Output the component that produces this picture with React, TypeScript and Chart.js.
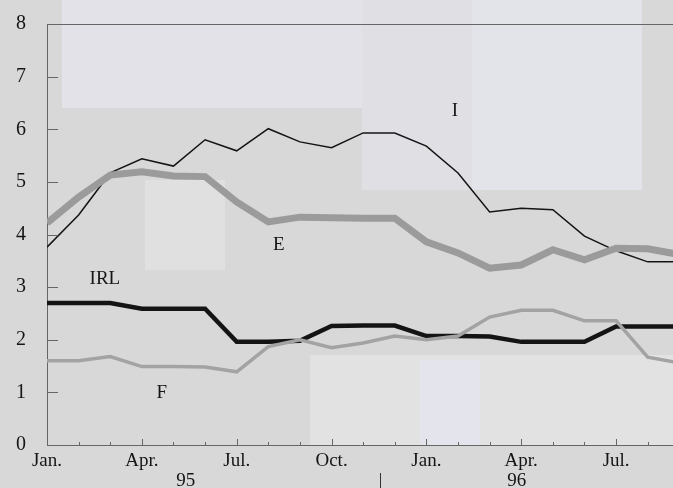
import { useEffect, useRef } from 'react';
import { Chart, registerables } from 'chart.js';

Chart.register(...registerables);

// Months since Jan. 1995 (0 = Jan 95 ... 20 = Sep 96)
const months = [0, 1, 2, 3, 4, 5, 6, 7, 8, 9, 10, 11, 12, 13, 14, 15, 16, 17, 18, 19, 20];
const monthTickLabels = ['Jan.', '', '', 'Apr.', '', '', 'Jul.', '', '', 'Oct.', '', '', 'Jan.', '', '', 'Apr.', '', '', 'Jul.', ''];
const yearLabels = ['95', '96'];
const yearLabelAt = [4.39, 14.86];
const yearSeparatorAt = 10.53;

const seriesI = [3.76, 4.37, 5.17, 5.44, 5.3, 5.8, 5.59, 6.01, 5.76, 5.65, 5.93, 5.93, 5.68, 5.17, 4.43, 4.5, 4.47, 3.97, 3.69, 3.48, 3.48];
const seriesE = [4.22, 4.71, 5.13, 5.19, 5.11, 5.1, 4.62, 4.24, 4.33, 4.32, 4.31, 4.31, 3.86, 3.65, 3.36, 3.42, 3.71, 3.52, 3.74, 3.73, 3.62];
const seriesIRL = [2.7, 2.7, 2.7, 2.59, 2.59, 2.59, 1.96, 1.96, 1.98, 2.26, 2.27, 2.27, 2.07, 2.07, 2.06, 1.96, 1.96, 1.96, 2.25, 2.25, 2.25];
const seriesF = [1.6, 1.6, 1.68, 1.49, 1.49, 1.48, 1.39, 1.87, 2.0, 1.85, 1.94, 2.07, 2.0, 2.07, 2.43, 2.56, 2.56, 2.36, 2.36, 1.67, 1.56];

const seriesNames = ['I', 'E', 'IRL', 'F'];
const seriesLabelX = [12.9, 7.33, 1.83, 3.63];
const seriesLabelY = [6.35, 3.8, 3.16, 0.99];

const SERIF = '"Liberation Serif", "DejaVu Serif", serif';
const INK = '#151515';

const toPoints = (vals: number[]) => vals.map((v, i) => ({ x: months[i], y: v }));

const backgroundPlugin = {
  id: 'scanBackground',
  beforeDraw(chart: any) {
    const { ctx, width, height } = chart;
    ctx.save();
    ctx.fillStyle = '#d8d8d8';
    ctx.fillRect(0, 0, width, height);
    const patches: [number, number, number, number, string][] = [
      [62, 0, 300, 108, '#e2e2e8'],
      [362, 0, 110, 190, '#e0e0e4'],
      [472, 0, 170, 190, '#e3e3ea'],
      [145, 180, 80, 90, '#e0e0e0'],
      [310, 355, 363, 90, '#e2e2e2'],
      [420, 360, 60, 85, '#e4e4ec'],
    ];
    patches.forEach(([x, y, w, h, c]) => {
      ctx.fillStyle = c;
      ctx.fillRect(x, y, w, h);
    });
    ctx.restore();
  },
};

const decorPlugin = {
  id: 'decor',
  afterDraw(chart: any) {
    const { ctx, chartArea } = chart;
    const xs = chart.scales.x;
    const ys = chart.scales.y;
    ctx.save();
    // top border
    ctx.strokeStyle = '#666';
    ctx.lineWidth = 1;
    ctx.beginPath();
    ctx.moveTo(chartArea.left, chartArea.top + 0.5);
    ctx.lineTo(chartArea.right, chartArea.top + 0.5);
    ctx.stroke();
    // inward x ticks
    months.slice(0, 20).forEach((m) => {
      const px = Math.round(xs.getPixelForValue(m)) + 0.5;
      const len = m % 3 === 0 ? 6 : 3;
      ctx.beginPath();
      ctx.moveTo(px, chartArea.bottom);
      ctx.lineTo(px, chartArea.bottom - len);
      ctx.stroke();
    });
    // inward y ticks
    for (let v = 1; v < 8; v++) {
      const py = Math.round(ys.getPixelForValue(v)) + 0.5;
      ctx.beginPath();
      ctx.moveTo(chartArea.left, py);
      ctx.lineTo(chartArea.left + 11, py);
      ctx.stroke();
    }
    // series labels
    ctx.fillStyle = INK;
    ctx.font = `19px ${SERIF}`;
    ctx.textAlign = 'center';
    ctx.textBaseline = 'middle';
    seriesNames.forEach((n, i) => {
      ctx.fillText(n, xs.getPixelForValue(seriesLabelX[i]), ys.getPixelForValue(seriesLabelY[i]));
    });
    // year labels
    ctx.font = `19px ${SERIF}`;
    ctx.textBaseline = 'middle';
    yearLabels.forEach((t, i) => {
      ctx.fillText(t, xs.getPixelForValue(yearLabelAt[i]), 481);
    });
    const sx = Math.round(xs.getPixelForValue(yearSeparatorAt)) + 0.5;
    ctx.strokeStyle = '#333';
    ctx.beginPath();
    ctx.moveTo(sx, 473);
    ctx.lineTo(sx, 488);
    ctx.stroke();
    ctx.restore();
  },
};

export default function App() {
  const ref = useRef<HTMLCanvasElement | null>(null);

  useEffect(() => {
    document.body.style.margin = '0';
    const canvas = ref.current;
    if (!canvas) return;
    const chart = new Chart(canvas, {
      type: 'line',
      data: {
        datasets: [
          { label: 'E', data: toPoints(seriesE), borderColor: '#9b9b9b', borderWidth: 7, pointRadius: 0, tension: 0 },
          { label: 'F', data: toPoints(seriesF), borderColor: '#a3a3a3', borderWidth: 3.5, pointRadius: 0, tension: 0 },
          { label: 'IRL', data: toPoints(seriesIRL), borderColor: '#141414', borderWidth: 4.5, pointRadius: 0, tension: 0 },
          { label: 'I', data: toPoints(seriesI), borderColor: '#141414', borderWidth: 1.5, pointRadius: 0, tension: 0 },
        ],
      },
      options: {
        animation: false,
        responsive: false,
        maintainAspectRatio: false,
        layout: { padding: { top: 24, right: 0, left: 0, bottom: 0 } },
        plugins: { legend: { display: false }, tooltip: { enabled: false } },
        scales: {
          x: {
            type: 'linear',
            min: 0,
            max: 19.8,
            afterBuildTicks: (scale: any) => {
              scale.ticks = months.slice(0, 20).map((v) => ({ value: v }));
            },
            afterFit: (scale: any) => {
              scale.height = 43;
              scale.paddingLeft = 0;
              scale.paddingRight = 0;
            },
            grid: { display: false, drawTicks: false },
            border: { display: true, color: '#666', width: 1 },
            ticks: {
              autoSkip: false,
              maxRotation: 0,
              padding: 5,
              color: INK,
              font: { family: SERIF, size: 19 },
              callback: (v: any) => monthTickLabels[Math.round(Number(v))] ?? '',
            },
          },
          y: {
            min: 0,
            max: 8,
            afterFit: (scale: any) => {
              scale.width = 47;
              scale.paddingTop = 0;
              scale.paddingBottom = 0;
            },
            grid: { display: false, drawTicks: false },
            border: { display: true, color: '#666', width: 1 },
            ticks: {
              stepSize: 1,
              padding: 21,
              color: INK,
              font: { family: SERIF, size: 20 },
            },
          },
        },
      },
      plugins: [backgroundPlugin, decorPlugin],
    });
    return () => chart.destroy();
  }, []);

  return <canvas ref={ref} width={673} height={488} style={{ display: 'block', width: 673, height: 488 }} />;
}
